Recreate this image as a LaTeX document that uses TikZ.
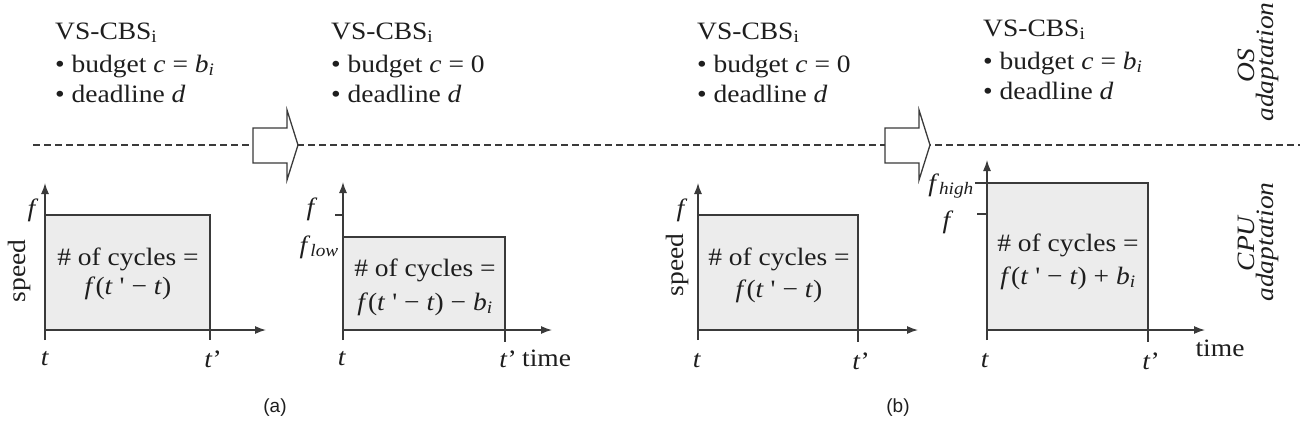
\documentclass[tikz,border=0pt]{standalone}
\usepackage{fontspec}
\setmainfont{Liberation Serif}[Ligatures=TeXOff, FakeStretch=1.1]
\newfontfamily\labfont{Liberation Sans}
\usetikzlibrary{arrows.meta}
\definecolor{axcol}{HTML}{3A3A3A}
\definecolor{txtcol}{HTML}{1E1E1E}
\definecolor{boxfill}{HTML}{ECECEC}
\begin{document}
\begin{tikzpicture}[x=1pt,y=-1pt,
  txt/.style={font=\fontsize{25}{30}\selectfont, inner sep=0pt, text=txtcol},
  hd/.style={txt, anchor=base west},
  lab/.style={txt},
  axis/.style={draw=axcol, line width=1.3pt, -{Latex[length=11pt,width=8pt]}},
  tickline/.style={draw=axcol, line width=1.3pt},
  cyclebox/.style={draw=axcol, fill=boxfill, line width=1.6pt},
  blockarrow/.style={draw=axcol, fill=white, line width=1.3pt, line join=miter},
  sep/.style={draw=axcol, line width=1.3pt, dash pattern=on 7pt off 4pt},
  panel/.style={font=\labfont\fontsize{19}{22}\selectfont, inner sep=0pt, text=txtcol}
]
\useasboundingbox (0,0) rectangle (1300,442);

% separator
\coordinate (sepL) at (33,145);
\coordinate (sepR) at (1300,145);
\draw[sep] (sepL) -- (sepR);

% block arrows
\draw[blockarrow] (253,128) -- (287,128) -- (287,110) -- (298,145) -- (287,180) -- (287,163) -- (253,163) -- cycle;
\draw[blockarrow] (885,128) -- (919,128) -- (919,110) -- (930,145) -- (919,180) -- (919,163) -- (885,163) -- cycle;

% OS text blocks
\node[hd] (h1) at (55,39) {VS-CBS\textsubscript{i}};
\node[hd] (b1) at (55,72) {• budget \textit{c} = \textit{b}\textsubscript{\textit{i}}};
\node[hd] (d1) at (55,102) {• deadline \textit{d}};

\node[hd] (h2) at (331,39) {VS-CBS\textsubscript{i}};
\node[hd] (b2) at (331,72) {• budget \textit{c} = 0};
\node[hd] (d2) at (331,102) {• deadline \textit{d}};

\node[hd] (h3) at (697,39) {VS-CBS\textsubscript{i}};
\node[hd] (b3) at (697,72) {• budget \textit{c} = 0};
\node[hd] (d3) at (697,102) {• deadline \textit{d}};

\node[hd] (h4) at (983,36) {VS-CBS\textsubscript{i}};
\node[hd] (b4) at (983,69) {• budget \textit{c} = \textit{b}\textsubscript{\textit{i}}};
\node[hd] (d4) at (983,99) {• deadline \textit{d}};

% side labels
\node[lab, rotate=90] (os) at (1246,66) {\textit{OS}};
\node[lab, rotate=90] (osa) at (1267,62) {\textit{adaptation}};
\node[lab, rotate=90] (cpu) at (1246,243) {\textit{CPU}};
\node[lab, rotate=90] (cpua) at (1267,242) {\textit{adaptation}};

% ---------- panel 1 ----------
\coordinate (o1) at (45,330);
\coordinate (y1) at (45,183);
\coordinate (x1) at (266,330);
\coordinate (r1) at (210,215);
\draw[cyclebox] (o1) rectangle (r1);
\draw[axis] (45,340) -- (y1);
\draw[axis] (o1) -- (x1);
\draw[tickline] (210,330) -- (210,340);
\node[lab] (c1a) at (128,259) {\# of cycles =};
\node[lab] (c1b) at (128,288) {\textit{f}(\textit{t} ' − \textit{t})};
\node[lab] (f1) at (33,210) {\textit{f}};
\node[lab, rotate=90] (s1) at (19,271) {speed};
\node[lab] (t1) at (45,359) {\textit{t}};
\node[lab] (tp1) at (213,359) {\textit{t}’};

% ---------- panel 2 ----------
\coordinate (o2) at (343,330);
\coordinate (y2) at (343,182);
\coordinate (x2) at (552,330);
\coordinate (r2) at (505,237);
\draw[cyclebox] (o2) rectangle (r2);
\draw[axis] (343,340) -- (y2);
\draw[axis] (o2) -- (x2);
\draw[tickline] (505,330) -- (505,342);
\draw[tickline] (335,215) -- (343,215);
\node[lab] (c2a) at (425,270) {\# of cycles =};
\node[lab] (c2b) at (425,304) {\textit{f}(\textit{t} ' − \textit{t}) − \textit{b}\textsubscript{\textit{i}}};
\node[lab] (f2) at (312,209) {\textit{f}};
\node[lab, anchor=east] (fl2) at (339,247) {\textit{f}\textsubscript{\textit{low}}};
\node[lab] (t2) at (342,359) {\textit{t}};
\node[lab] (tp2) at (508,359) {\textit{t}’};
\node[lab, anchor=base west] (tm2) at (522,366) {time};

% ---------- panel 3 ----------
\coordinate (o3) at (698,330);
\coordinate (y3) at (698,183);
\coordinate (x3) at (918,330);
\coordinate (r3) at (858,215);
\draw[cyclebox] (o3) rectangle (r3);
\draw[axis] (698,340) -- (y3);
\draw[axis] (o3) -- (x3);
\draw[tickline] (858,330) -- (858,342);
\node[lab] (c3a) at (779,259) {\# of cycles =};
\node[lab] (c3b) at (779,291) {\textit{f}(\textit{t} ' − \textit{t})};
\node[lab] (f3) at (682,210) {\textit{f}};
\node[lab, rotate=90] (s3) at (677,265) {speed};
\node[lab] (t3) at (697,361) {\textit{t}};
\node[lab] (tp3) at (861,361) {\textit{t}’};

% ---------- panel 4 ----------
\coordinate (o4) at (987,330);
\coordinate (y4) at (987,160);
\coordinate (x4) at (1205,330);
\coordinate (r4) at (1148,183);
\draw[cyclebox] (o4) rectangle (r4);
\draw[axis] (987,340) -- (y4);
\draw[axis] (o4) -- (x4);
\draw[tickline] (1148,330) -- (1148,342);
\draw[tickline] (977,214) -- (987,214);
\draw[tickline] (975,183) -- (987,183);
\node[lab] (c4a) at (1068,245) {\# of cycles =};
\node[lab] (c4b) at (1068,278) {\textit{f}(\textit{t} ' − \textit{t}) + \textit{b}\textsubscript{\textit{i}}};
\node[lab, anchor=east] (fh4) at (974,186) {\textit{f}\textsubscript{\textit{high}}};
\node[lab] (f4) at (948,222) {\textit{f}};
\node[lab] (t4) at (985,361) {\textit{t}};
\node[lab] (tp4) at (1151,361) {\textit{t}’};
\node[lab] (tm4) at (1220,348) {time};

% panel captions
\node[panel] (pa) at (275,408) {(a)};
\node[panel] (pb) at (898,408) {(b)};
\end{tikzpicture}
\end{document}
